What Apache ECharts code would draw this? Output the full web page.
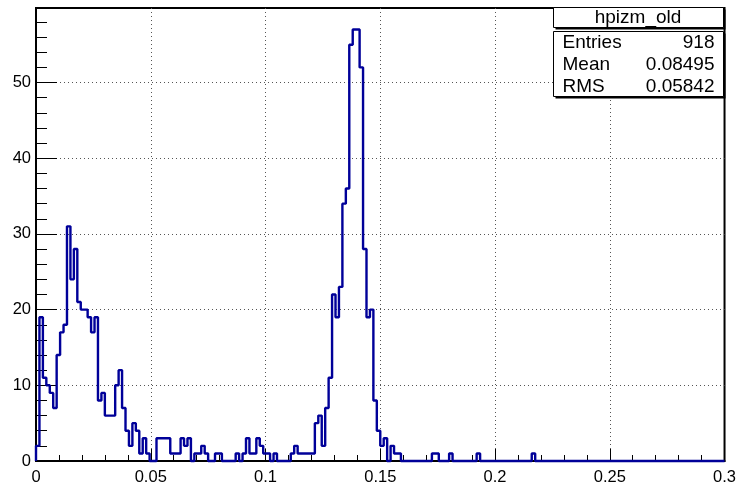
<!DOCTYPE html>
<html>
<head>
<meta charset="utf-8">
<script src="https://cdn.jsdelivr.net/npm/echarts@6/dist/echarts.min.js"></script>
<style>
html,body{margin:0;padding:0;background:#fff;}
#chart{width:739px;height:486px;}
</style>
</head>
<body>
<div id="chart"></div>
<script>
// Histogram definition
const nBins = 200;
const xMin = 0;
const xMax = 0.3;
// Bin contents (200 bins of width 0.0015)
const binCounts = [
  2,19,11,10,9,7,14,17,18,31, 24,28,21,20,20,19,17,19,8,9,
  6,6,6,10,12,7,4,2,5,4, 1,3,1,0,0,3,3,3,3,1,
  1,1,3,2,3,0,1,1,2,1, 0,0,1,1,0,0,0,0,1,0,
  1,3,1,1,3,2,1,1,0,1, 0,0,0,0,1,2,1,1,1,1,
  1,5,6,2,7,11,22,19,23,34, 36,55,57,57,52,28,19,20,8,4,
  2,3,0,2,1,1,0,0,0,0, 0,0,0,0,0,1,1,0,0,0,
  1,0,0,0,0,0,0,0,1,0, 0,0,0,0,0,0,0,0,0,0,
  0,0,0,0,1,0,0,0,0,0, 0,0,0,0,0,0,0,0,0,0,
  0,0,0,0,0,0,0,0,0,0, 0,0,0,0,0,0,0,0,0,0,
  0,0,0,0,0,0,0,0,0,0, 0,0,0,0,0,0,0,0,0,0
];
const xTickLabels = ['0','0.05','0.1','0.15','0.2','0.25','0.3'];
const yTickLabels = ['0','10','20','30','40','50'];
const yMax = 59.85;
const histName = 'hpizm_old';
const statsNames = ['Entries','Mean','RMS'];
const statsValues = ['918','0.08495','0.05842'];

// Build step outline points from bin edges
const binWidth = (xMax - xMin) / nBins;
const outline = [[xMin, 0]];
for (let i = 0; i < nBins; i++) {
  outline.push([xMin + i * binWidth, binCounts[i]]);
}
outline.push([xMax, binCounts[nBins - 1]]);
outline.push([xMax, 0]);

const FONT = 'Liberation Sans, Arial, Helvetica, sans-serif';
const chart = echarts.init(document.getElementById('chart'), null, {renderer: 'canvas'});

const graphics = [];
function box(x, y, w, h, z) {
  graphics.push({type: 'rect', z: z, silent: true,
    shape: {x: x + 2, y: y + 2, width: w, height: h}, style: {fill: '#000'}});
  graphics.push({type: 'rect', z: z + 1, silent: true,
    shape: {x: x, y: y, width: w, height: h}, style: {fill: '#fff', stroke: '#000', lineWidth: 1}});
}
box(553.5, 7.5, 170, 20, 100);
box(553.5, 31.5, 170, 65, 100);
graphics.push({type: 'text', z: 110, silent: true, x: 638, y: 18,
  style: {text: histName, font: '19px ' + FONT, fill: '#000', textAlign: 'center', textVerticalAlign: 'middle'}});
statsNames.forEach(function (n, k) {
  const yy = 42.5 + k * 22.3;
  graphics.push({type: 'text', z: 110, silent: true, x: 562.5, y: yy,
    style: {text: n, font: '19px ' + FONT, fill: '#000', textAlign: 'left', textVerticalAlign: 'middle'}});
  graphics.push({type: 'text', z: 110, silent: true, x: 714.5, y: yy,
    style: {text: statsValues[k], font: '19px ' + FONT, fill: '#000', textAlign: 'right', textVerticalAlign: 'middle'}});
});

const fmt = function (v) { return String(Math.round(v * 10000) / 10000); };

chart.setOption({
  animation: false,
  grid: {left: 36, right: 13, top: 8, bottom: 24, show: true, borderColor: '#000', borderWidth: 2, backgroundColor: 'transparent'},
  xAxis: {
    type: 'value', min: xMin, max: xMax, interval: 0.05,
    axisLine: {show: true, onZero: false, lineStyle: {color: '#000', width: 2}},
    axisTick: {show: true, inside: true, length: 12, lineStyle: {color: '#000', width: 1}},
    minorTick: {show: true, splitNumber: 5, length: 6, lineStyle: {color: '#000', width: 1}},
    axisLabel: {show: true, margin: 8, color: '#000', fontSize: 16.5, fontFamily: FONT,
      formatter: function (v) { const s = fmt(v); return xTickLabels.indexOf(s) >= 0 ? s : ''; }},
    splitLine: {show: true, showMinLine: false, showMaxLine: false, lineStyle: {color: '#555', width: 1, type: [1, 3]}}
  },
  yAxis: {
    type: 'value', min: 0, max: yMax, interval: 10,
    axisLine: {show: true, onZero: false, lineStyle: {color: '#000', width: 2}},
    axisTick: {show: true, inside: true, length: 21, lineStyle: {color: '#000', width: 1}},
    minorTick: {show: true, splitNumber: 5, length: 11, lineStyle: {color: '#000', width: 1}},
    axisLabel: {show: true, margin: 5, color: '#000', fontSize: 16.5, fontFamily: FONT, showMaxLabel: false,
      formatter: function (v) { const s = fmt(v); return yTickLabels.indexOf(s) >= 0 ? s : ''; }},
    splitLine: {show: true, showMinLine: false, showMaxLine: false, lineStyle: {color: '#555', width: 1, type: [1, 3]}}
  },
  series: [{
    type: 'line', step: 'end', data: outline, showSymbol: false, symbol: 'none',
    clip: false, z: 5,
    lineStyle: {color: '#000099', width: 2.4}
  }],
  graphic: graphics
});
</script>
</body>
</html>
